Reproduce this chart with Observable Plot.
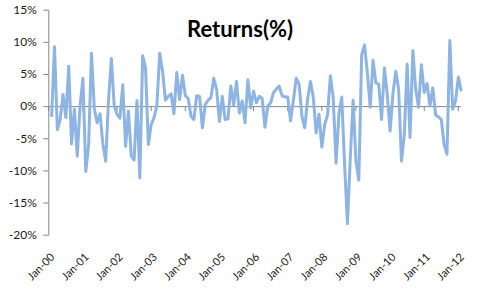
<!DOCTYPE html>
<html>
<head>
<meta charset="utf-8">
<script src="https://cdn.jsdelivr.net/npm/d3@7"></script>
<script src="https://cdn.jsdelivr.net/npm/@observablehq/plot@0.6"></script>
<style>
  html, body { margin: 0; padding: 0; background: #fff; }
  #chart { width: 480px; height: 288px; }
</style>
</head>
<body>
<div id="chart"></div>
<script>
// Monthly returns (%), one per month starting Jan-00 (first month has no return)
const returns2000 = [null, -1.6, 9.3, -3.6, -2.0, 1.9, -1.7, 6.3, -5.8, -0.4, -7.7, 0.2];
const returns2001 = [4.4, -10.1, -6.0, 8.3, -0.3, -2.5, -1.1, -5.8, -8.5, 1.0, 7.5, 0.1];
const returns2002 = [-1.2, -1.8, 3.4, -6.2, -0.7, -7.7, -8.3, 0.9, -11.1, 7.9, 6.1, -5.9];
const returns2003 = [-2.8, -1.7, 0.2, 8.3, 5.5, 1.0, 1.6, 2.0, -1.1, 5.3, 1.1, 4.9];
const returns2004 = [1.7, 1.3, -1.5, -2.0, 1.7, 1.6, -3.3, 0.3, 1.0, 1.4, 4.4, 2.7];
const returns2005 = [-2.3, 1.6, -2.0, -1.9, 3.2, 0.3, 3.9, -1.0, 0.9, -2.5, 4.2, -0.2];
const returns2006 = [2.4, 0.6, 1.6, 1.3, -3.2, 0.1, 0.6, 2.2, 2.7, 3.2, 1.7, 1.5];
const returns2007 = [1.5, -2.2, 1.0, 4.4, 3.5, -1.5, -3.3, 1.2, 3.9, 1.4, -4.1, -1.2];
const returns2008 = [-6.3, -2.8, -1.3, 4.8, 1.4, -8.8, -1.2, 1.5, -9.0, -18.2, -8.0, 1.0];
const returns2009 = [-8.5, -11.4, 8.0, 9.6, 5.3, -0.1, 7.2, 3.7, 3.5, -2.0, 6.0, 1.9];
const returns2010 = [-3.8, 2.0, 5.5, 2.7, -8.5, -4.3, 6.6, -4.8, 8.7, 2.7, -0.1, 6.5];
const returns2011 = [2.2, 3.6, 0.1, 2.9, -1.3, -1.6, -2.0, -5.9, -7.4, 10.3, -0.4, 0.9];
const returns2012 = [4.6, 2.4];

const tickLabels = ["Jan-00","Jan-01","Jan-02","Jan-03","Jan-04","Jan-05","Jan-06",
                    "Jan-07","Jan-08","Jan-09","Jan-10","Jan-11","Jan-12"];
const yTicks = [-20, -15, -10, -5, 0, 5, 10, 15];
const title = "Returns(%)";

const returns = [].concat(returns2000, returns2001, returns2002, returns2003, returns2004,
  returns2005, returns2006, returns2007, returns2008, returns2009, returns2010,
  returns2011, returns2012);
const data = returns.map((v, i) => ({i, v}));
const tickIdx = tickLabels.map((_, k) => k * 12);

const font = "Lato, 'Open Sans', sans-serif";
const axisGray = "#868686";
const textColor = "#1a1a1a";

const chart = Plot.plot({
  width: 480,
  height: 288,
  marginLeft: 48.3,
  marginRight: 19.3,
  marginTop: 9.7,
  marginBottom: 53.3,
  style: {fontFamily: font, fontSize: "12px", color: textColor, background: "#fff"},
  x: {domain: [0, returns.length - 1], axis: null},
  y: {domain: [-20, 15], axis: null},
  marks: [
    Plot.frame({anchor: "left", stroke: axisGray, strokeWidth: 1}),
    Plot.ruleY([0], {stroke: axisGray, strokeWidth: 1}),
    Plot.ruleX(tickIdx, {x: d => d, y1: 0, y2: 0, insetBottom: -5, stroke: axisGray, strokeWidth: 1}),
    Plot.axisY({ticks: yTicks, tickSize: 5, tickPadding: 7, tickFormat: d => d + "%",
                stroke: axisGray, fill: textColor, fontSize: 12, label: null}),
    Plot.text(tickIdx, {x: d => d, text: (d, k) => tickLabels[k], frameAnchor: "bottom",
                        rotate: -45, textAnchor: "end", lineAnchor: "middle",
                        dx: 4, dy: 20, fill: textColor, fontSize: 11}),
    Plot.line(data, {x: "i", y: "v", stroke: "#8DB4E2", strokeWidth: 3,
                     strokeLinejoin: "round", strokeLinecap: "butt"}),
    Plot.text([title], {text: d => d, frameAnchor: "top", lineAnchor: "bottom",
                        dx: -15, dy: 27, fontSize: 22, fontWeight: "bold", fill: "#000"})
  ]
});
document.getElementById("chart").appendChild(chart);
</script>
</body>
</html>
